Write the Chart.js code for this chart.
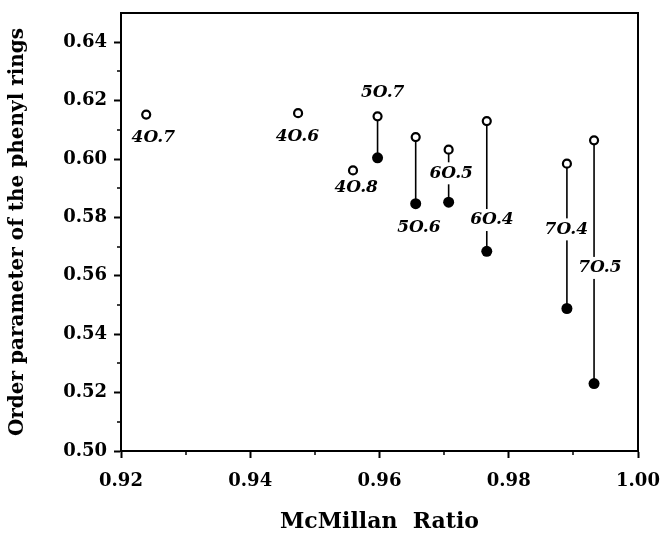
<!DOCTYPE html>
<html>
<head>
<meta charset="utf-8">
<script src="https://cdn.jsdelivr.net/npm/chart.js@4/dist/chart.umd.min.js"></script>
<style>
  html, body { margin: 0; padding: 0; background: #fff; }
  #wrap { width: 668px; height: 536px; }
</style>
</head>
<body>
<div id="wrap"><canvas id="c" width="668" height="536"></canvas></div>
<script>
// ---- Data ----
const compounds   = ["4O.7", "4O.6", "4O.8", "5O.7", "5O.6", "6O.5", "6O.4", "7O.4", "7O.5"];
const mcmillan    = [0.9239, 0.9474, 0.9559, 0.9597, 0.9656, 0.9707, 0.9766, 0.9890, 0.9932];
const orderOpen   = [0.6152, 0.6157, 0.5961, 0.6146, 0.6075, 0.6032, 0.6130, 0.5984, 0.6064];
const orderFilled = [null,   null,   null,   0.6004, 0.5847, 0.5852, 0.5684, 0.5488, 0.5231];
// label anchor points (in data units)
const labelX      = [0.9250, 0.9473, 0.9564, 0.9605, 0.9661, 0.9711, 0.9774, 0.9889, 0.9941];
const labelY      = [0.6074, 0.6077, 0.5903, 0.6226, 0.5764, 0.5951, 0.5791, 0.5759, 0.5627];
// tick values
const xMajorTicks = [0.92, 0.94, 0.96, 0.98, 1.00];
const xMinorTicks = [0.93, 0.95, 0.97, 0.99];
const yMajorTicks = [0.50, 0.52, 0.54, 0.56, 0.58, 0.60, 0.62, 0.64];
const yMinorTicks = [0.51, 0.53, 0.55, 0.57, 0.59, 0.61, 0.63];

const SERIF = '"DejaVu Serif", serif';

const openPts = mcmillan.map((x, i) => ({ x: x, y: orderOpen[i] }));
const filledPts = mcmillan.map((x, i) => ({ x: x, y: orderFilled[i] })).filter(p => p.y !== null);

const datasets = [
  {
    type: 'scatter', label: 'open', data: openPts, order: 0,
    pointRadius: 4, pointBorderWidth: 2.2, pointBackgroundColor: '#fff', pointBorderColor: '#000'
  },
  {
    type: 'scatter', label: 'filled', data: filledPts, order: 0,
    pointRadius: 5.5, pointBorderWidth: 0, pointBackgroundColor: '#000', pointBorderColor: '#000'
  }
];
mcmillan.forEach((x, i) => {
  if (orderFilled[i] === null) return;
  datasets.push({
    type: 'line', label: 'link' + i, order: 2,
    data: [{ x: x, y: orderOpen[i] }, { x: x, y: orderFilled[i] }],
    borderColor: '#000', borderWidth: 1.6, pointRadius: 0, fill: false
  });
});

const framePlugin = {
  id: 'frame',
  afterDraw(chart) {
    const { ctx, chartArea: a, scales: { x, y } } = chart;
    ctx.save();
    ctx.strokeStyle = '#000';
    ctx.lineWidth = 2;
    ctx.beginPath();
    ctx.moveTo(a.left, a.top);
    ctx.lineTo(a.right, a.top);
    ctx.lineTo(a.right, a.bottom);
    ctx.stroke();
    ctx.lineWidth = 1.5;
    ctx.beginPath();
    xMinorTicks.forEach(v => {
      const px = Math.round(x.getPixelForValue(v));
      ctx.moveTo(px, a.bottom);
      ctx.lineTo(px, a.bottom + 4);
    });
    yMinorTicks.forEach(v => {
      const py = Math.round(y.getPixelForValue(v));
      ctx.moveTo(a.left - 4, py);
      ctx.lineTo(a.left, py);
    });
    ctx.stroke();
    ctx.restore();
  }
};

const labelPlugin = {
  id: 'pointLabels',
  afterDatasetsDraw(chart) {
    const { ctx, scales: { x, y } } = chart;
    ctx.save();
    ctx.font = 'italic bold 17px "DejaVu Serif", serif';
    ctx.textAlign = 'center';
    ctx.textBaseline = 'middle';
    compounds.forEach((t, i) => {
      const px = x.getPixelForValue(labelX[i]);
      const py = y.getPixelForValue(labelY[i]);
      const w = ctx.measureText(t).width;
      ctx.fillStyle = '#fff';
      ctx.fillRect(px - w / 2 - 2, py - 11, w + 4, 22);
      ctx.fillStyle = '#000';
      ctx.fillText(t, px, py);
    });
    ctx.restore();
  }
};

new Chart(document.getElementById('c'), {
  data: { datasets: datasets },
  options: {
    responsive: false,
    animation: false,
    layout: { padding: { top: 13, right: 30, left: 0, bottom: 0 } },
    plugins: { legend: { display: false }, tooltip: { enabled: false } },
    scales: {
      x: {
        type: 'linear', position: 'bottom', min: 0.92, max: 1.0,
        afterBuildTicks: s => { s.ticks = xMajorTicks.map(v => ({ value: v })); },
        afterFit: s => { s.height = 85; s.paddingLeft = 0; s.paddingRight = 0; },
        grid: { drawOnChartArea: false, tickLength: 7, tickWidth: 2, tickColor: '#000' },
        border: { display: true, color: '#000', width: 2 },
        ticks: {
          color: '#000', padding: 13, maxRotation: 0, autoSkip: false,
          font: { family: SERIF, size: 18, weight: 'bold' },
          callback: v => Number(v).toFixed(2)
        },
        title: {
          display: true, text: 'McMillan  Ratio', color: '#000',
          font: { family: SERIF, size: 22, weight: 'bold' },
          padding: { top: 0, bottom: 1 }
        }
      },
      y: {
        type: 'linear', position: 'left', min: 0.50, max: 0.65,
        afterBuildTicks: s => { s.ticks = yMajorTicks.map(v => ({ value: v })); },
        afterFit: s => { s.width = 121; s.paddingTop = 0; s.paddingBottom = 0; },
        grid: { drawOnChartArea: false, tickLength: 7, tickWidth: 2, tickColor: '#000' },
        border: { display: true, color: '#000', width: 2 },
        ticks: {
          color: '#000', padding: 7, autoSkip: false,
          font: { family: SERIF, size: 18, weight: 'bold' },
          callback: v => Number(v).toFixed(2)
        },
        title: {
          display: true, text: 'Order parameter of the phenyl rings', color: '#000',
          font: { family: SERIF, size: 20, weight: 'bold' },
          padding: { top: 6, bottom: 0 }
        }
      }
    }
  },
  plugins: [framePlugin, labelPlugin]
});
</script>
</body>
</html>
